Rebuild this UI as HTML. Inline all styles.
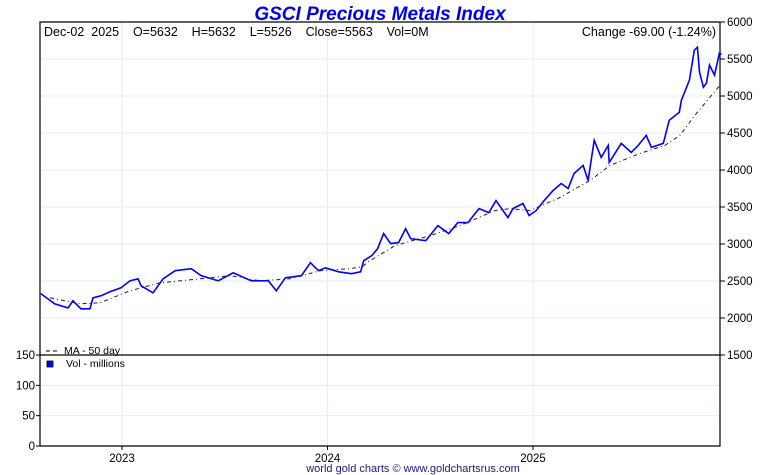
<!DOCTYPE html>
<html><head><meta charset="utf-8"><style>
body{margin:0;background:#fff}
svg{display:block;font-family:"Liberation Sans",sans-serif}
</style></head><body>
<svg id="chart" width="760" height="475" viewBox="0 0 760 475">
<text x="380" y="20" text-anchor="middle" font-size="19" font-weight="bold" font-style="italic" fill="#0000ee">GSCI Precious Metals Index</text>
<g id="grid"></g>
<g id="axes"></g>
<g id="series"></g>
<text x="44" y="36" font-size="12.5" fill="#000" xml:space="preserve">Dec-02  2025    O=5632    H=5632    L=5526    Close=5563    Vol=0M</text>
<text x="716" y="36" text-anchor="end" font-size="12.5" fill="#000">Change -69.00 (-1.24%)</text>
<line x1="46" y1="351" x2="58" y2="351" stroke="#000" stroke-dasharray="4 3"/>
<text x="64" y="354" font-size="10.5">MA - 50 day</text>
<rect x="47" y="361" width="6" height="6" fill="#00f" stroke="#000" stroke-width="0.8"/>
<text x="66" y="367" font-size="10.5">Vol - millions</text>
<text x="413" y="472" text-anchor="middle" font-size="11" fill="#1a1a8c">world gold charts © www.goldchartsrus.com</text>
</svg>
<script>
const priceDates=[2022.605,2022.673,2022.737,2022.761,2022.800,2022.844,2022.859,2022.898,2022.941,2022.995,2023.039,2023.078,2023.093,2023.151,2023.200,2023.259,2023.337,2023.385,2023.468,2023.541,2023.629,2023.712,2023.751,2023.795,2023.873,2023.917,2023.956,2023.990,2024.054,2024.117,2024.161,2024.176,2024.215,2024.244,2024.273,2024.307,2024.346,2024.380,2024.405,2024.478,2024.537,2024.590,2024.634,2024.683,2024.737,2024.785,2024.820,2024.878,2024.902,2024.951,2024.981,2025.015,2025.054,2025.098,2025.137,2025.171,2025.200,2025.244,2025.268,2025.298,2025.332,2025.366,2025.371,2025.429,2025.478,2025.512,2025.551,2025.576,2025.634,2025.663,2025.712,2025.722,2025.761,2025.785,2025.800,2025.810,2025.829,2025.844,2025.859,2025.883,2025.907,2025.917];
const priceValues=[2330,2191,2137,2232,2124,2124,2273,2300,2354,2408,2503,2530,2435,2340,2530,2639,2666,2571,2503,2611,2503,2503,2368,2544,2571,2747,2639,2679,2625,2598,2625,2774,2842,2937,3140,3005,3019,3208,3072,3045,3249,3140,3289,3289,3479,3425,3587,3357,3479,3547,3384,3452,3587,3723,3818,3750,3953,4062,3858,4401,4170,4333,4102,4360,4238,4333,4468,4306,4360,4672,4780,4943,5214,5620,5660,5322,5119,5173,5417,5282,5580,5563];
const maDates=[2022.650,2022.796,2022.893,2023.039,2023.185,2023.380,2023.526,2023.672,2023.818,2023.964,2024.109,2024.168,2024.207,2024.328,2024.499,2024.645,2024.815,2024.888,2024.985,2025.131,2025.277,2025.375,2025.521,2025.642,2025.715,2025.788,2025.861,2025.910];
const maValues=[2273,2192,2205,2368,2476,2530,2571,2503,2530,2639,2666,2693,2774,2977,3113,3249,3452,3479,3452,3628,3858,4062,4224,4333,4468,4739,4983,5146];
const priceTicks=[1500,2000,2500,3000,3500,4000,4500,5000,5500,6000];
const volTicks=[0,50,100,150];
const yearTicks=[2023,2024,2025];

const L=40,R=720,T=22,PB=355,VB=446;
const xs=t=>122+(t-2023)*205.5;
const ys=p=>T+(6000-p)*(PB-T)/4500;
const yv=v=>VB-v*(VB-PB)/150;
const NS="http://www.w3.org/2000/svg";
function mk(parent,tag,attrs){const e=document.createElementNS(NS,tag);for(const k in attrs)e.setAttribute(k,attrs[k]);document.getElementById(parent).appendChild(e);return e;}

priceTicks.forEach(p=>{
  const y=ys(p);
  if(p>1500&&p<6000){const g=mk('grid','line',{x1:L,x2:R,y1:y,y2:y,stroke:'#e3eef6'});
  
  }
  const t=mk('axes','line',{x1:R,x2:R+5,y1:y,y2:y,stroke:'#000'});
  
  
  const l=mk('axes','text',{x:R+7,y:y+4,'font-size':11.5});
  
  
  l.textContent=p;
});
volTicks.forEach(v=>{
  const y=yv(v);
  if(v>0&&v<150){const g=mk('grid','line',{x1:L,x2:R,y1:y,y2:y,stroke:'#e3eef6'});
  
  }
  const t=mk('axes','line',{x1:L-4,x2:L,y1:y,y2:y,stroke:'#000'});
  
  
  const l=mk('axes','text',{x:L-5,y:y+4,'font-size':11.5,'text-anchor':'end'});
  
  
  l.textContent=v;
});
yearTicks.forEach(yr=>{
  const x=xs(yr);
  const g=mk('grid','line',{x1:x,x2:x,y1:T,y2:VB,stroke:'#e3eef6'});
  
  
  const t=mk('axes','line',{x1:x,x2:x,y1:VB,y2:VB+4,stroke:'#000'});
  
  
  const l=mk('axes','text',{x:x,y:VB+16,'font-size':11.5,'text-anchor':'middle'});
  
  
  l.textContent=yr;
});
const frame=mk('axes','path',{d:`M${L},${VB}V${T}H${R}V${VB}H${L}M${L},${PB}H${R}`,fill:'none',stroke:'#000','stroke-width':1.2});



const ma=mk('series','polyline',{points:maDates.map((d,i)=>xs(d).toFixed(1)+','+ys(maValues[i]).toFixed(1)).join(' '),fill:'none',stroke:'#222','stroke-width':1,'stroke-dasharray':'4 3 1 3'});


const pl=mk('series','polyline',{points:priceDates.map((d,i)=>xs(d).toFixed(1)+','+ys(priceValues[i]).toFixed(1)).join(' '),fill:'none',stroke:'#0000ff','stroke-width':1.6,'stroke-linejoin':'miter'});


</script>
</body></html>
